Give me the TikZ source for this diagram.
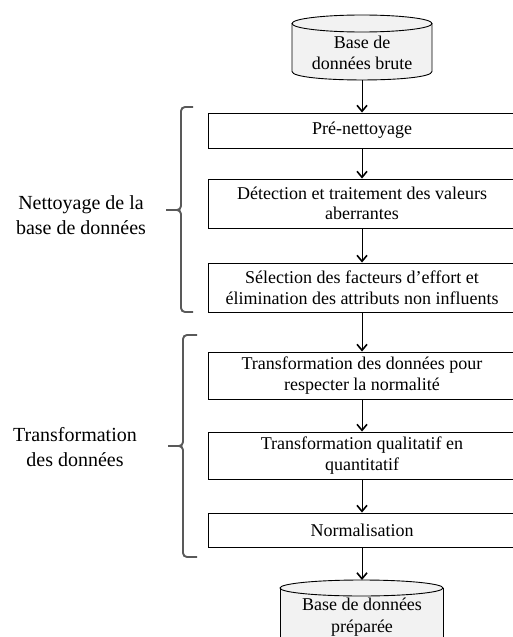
\documentclass[tikz,border=0pt]{standalone}
\usepackage{fontspec}
\setmainfont{Liberation Serif}
\usetikzlibrary{arrows.meta}
\definecolor{bracegray}{HTML}{595959}
\definecolor{cylfill}{HTML}{F2F2F2}
\begin{document}
\begin{tikzpicture}[x=1pt,y=-1pt,
  procbox/.style={draw, line width=0.9pt, minimum width=308pt, align=center,
    font=\fontsize{18}{20.5}\selectfont, inner sep=0pt},
  cyltext/.style={align=center, font=\fontsize{18}{21.5}\selectfont, inner sep=0pt},
  flow/.style={line width=1pt, -{Straight Barb[length=6pt,width=10pt,line width=1.6pt]}},
  bracestyle/.style={draw=bracegray, line width=1.9pt, rounded corners=4pt},
  sidelabel/.style={align=center, font=\fontsize{20}{25}\selectfont, inner sep=0pt},
  cylline/.style={draw, line width=0.9pt, fill=cylfill}]
\useasboundingbox (0,0) rectangle (513,637);

% top cylinder
\path[cylline] (292,23.5) -- (292,71.5) .. controls (292,82.8) and (432,82.8) .. (432,71.5) -- (432,23.5);
\path[cylline] (362,23.5) ellipse [x radius=70, y radius=8.5];
\node[cyltext] (db1) at (362,53) {Base de\\données brute};
\coordinate (db1bot) at (362,80);

% bottom cylinder
\path[cylline] (280,588) -- (280,660) -- (443,660) -- (443,588);
\path[cylline] (361.5,588) ellipse [x radius=81.5, y radius=8];
\node[cyltext] (db2) at (362,617) {Base de données\\préparée};
\coordinate (db2top) at (362,580);

% process boxes
\node[procbox, minimum height=35pt] (pre) at (362,130.5) {Pré-nettoyage};
\node[procbox, minimum height=49pt] (det) at (362,203.5) {Détection et traitement des valeurs\\aberrantes};
\node[procbox, minimum height=49pt] (sel) at (362,287.5) {Sélection des facteurs d’effort et\\élimination des attributs non influents};
\node[procbox, minimum height=47pt] (norm) at (362,375.5) {Transformation des données pour\\respecter la normalité};
\node[procbox, minimum height=47pt] (qual) at (362,455.5) {Transformation qualitatif en\\quantitatif};
\node[procbox, minimum height=34pt] (nrm) at (362,530) {Normalisation};

% connectors
\draw[flow] (db1bot) -- (pre.north);
\draw[flow] (pre.south) -- (det.north);
\draw[flow] (det.south) -- (sel.north);
\draw[flow] (sel.south) -- (norm.north);
\draw[flow] (norm.south) -- (qual.north);
\draw[flow] (qual.south) -- (nrm.north);
\draw[flow] (nrm.south) -- (db2top);

% braces
\path[bracestyle] (193,107) -- (181,107) -- (181,210) -- (166,210);
\path[bracestyle] (166,210) -- (181,210) -- (181,312) -- (193,312);
\path[bracestyle] (197,335) -- (183,335) -- (183,446) -- (168,446);
\path[bracestyle] (168,446) -- (183,446) -- (183,557) -- (197,557);

% side labels
\node[sidelabel] (lab1) at (81,215) {Nettoyage de la\\base de données};
\node[sidelabel] (lab2) at (75,447.5) {Transformation\\des données};
\end{tikzpicture}
\end{document}
